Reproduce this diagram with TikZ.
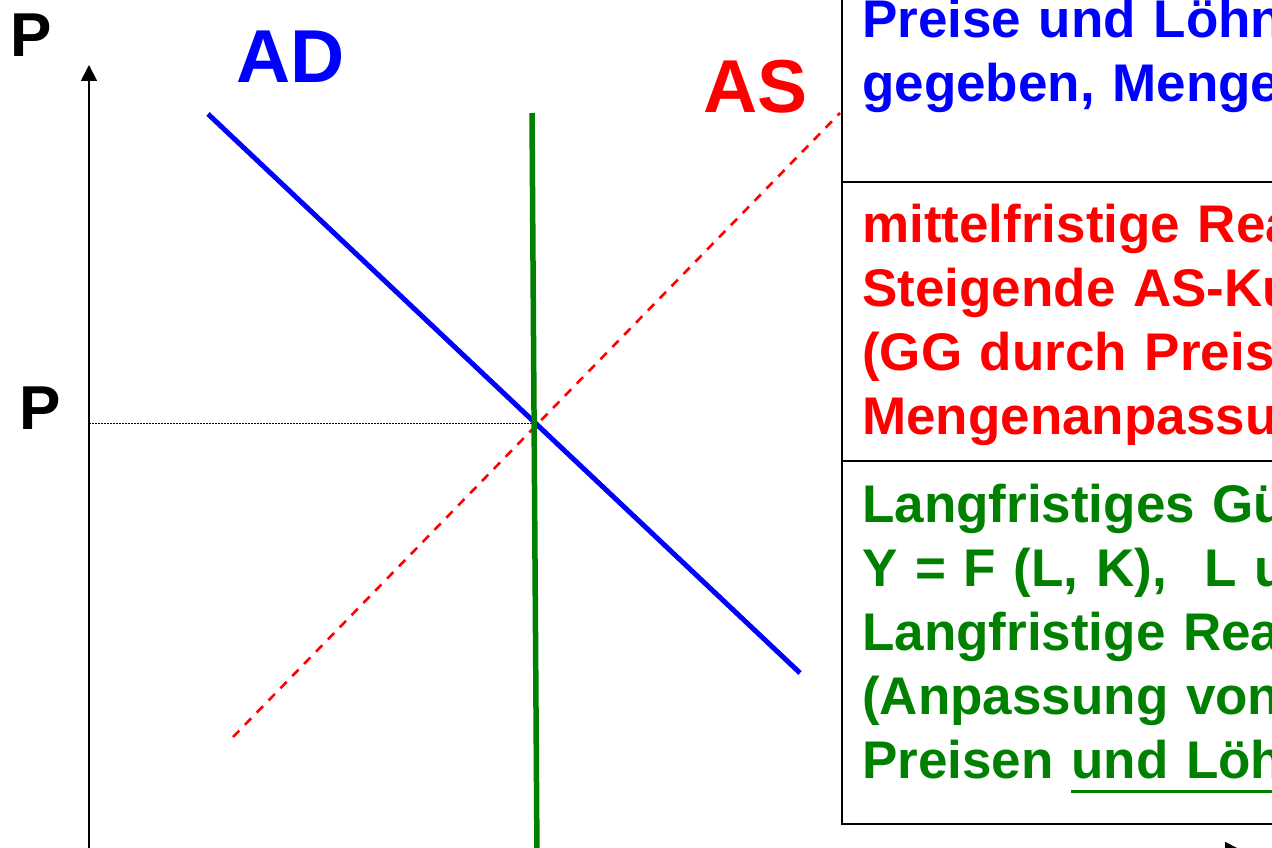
\documentclass[tikz,border=0pt]{standalone}
\usepackage{fontspec}
\setmainfont{Liberation Sans}
\usetikzlibrary{arrows.meta,positioning}
\definecolor{adblue}{RGB}{0,0,255}
\definecolor{asred}{RGB}{255,0,0}
\definecolor{lrgreen}{RGB}{0,128,0}
\newcommand{\lowline}[1]{\leavevmode\vtop{\hbox{#1}\kern10pt\hrule height 3pt}}

\begin{document}
\begin{tikzpicture}[
  x=1pt,y=1pt,
  axis/.style={line width=1.8pt,-{Triangle[length=16pt,width=16pt]}},
  guide/.style={line width=0.9pt,dash pattern=on 1.5pt off 1.5pt},
  adcurve/.style={adblue,line width=5pt},
  lrcurve/.style={lrgreen,line width=5.5pt},
  ascurve/.style={asred,line width=2.6pt,dash pattern=on 9pt off 8pt},
  panel/.style={draw,line width=1.8pt,fill=white,minimum width=600pt,inner sep=0pt,outer sep=0pt,anchor=north west},
  paneltext/.style={anchor=base west,inner sep=0pt,text width=700pt,align=left,font=\fontsize{53}{64}\selectfont\bfseries},
  axislabel/.style={anchor=base west,inner sep=0pt,font=\fontsize{62}{62}\selectfont\bfseries},
  curvelabel/.style={anchor=base west,inner sep=0pt,font=\fontsize{75}{75}\selectfont\bfseries},
  node distance=0pt]
\clip (0,0) rectangle (1272,847);
% axes
\coordinate (origin) at (89,-3);
\coordinate (pTip) at (89,782);
\coordinate (yTip) at (1241,-3);
\draw[axis] (origin)--(pTip);
\draw[axis] (origin)--(yTip);
\node[axislabel] (pAxisLabel) at (10,790) {P};
\node[axislabel] (pLevelLabel) at (19,417) {P};
% curves
\coordinate (adTop) at (208,733);
\coordinate (adEnd) at (800,174);
\coordinate (lrTop) at (532,734);
\coordinate (lrEnd) at (537,-10);
\coordinate (asStart) at (233,110);
\coordinate (asEnd) at (840,734);
\coordinate (pLevel) at (89,424);
\coordinate (eq) at (535,424);
\draw[guide] (pLevel)--(eq);
\draw[ascurve] (asStart)--(asEnd);
\draw[adcurve] (adTop)--(adEnd);
\draw[lrcurve] (lrTop)--(lrEnd);
\node[curvelabel,text=adblue] (adLabel) at (236,764) {AD};
\node[curvelabel,text=asred] (asLabel) at (703,734) {AS};
% text panels
\node[panel,minimum height=242pt] (shortBox) at (842,907) {};
\node[panel,minimum height=279pt,below=of shortBox] (midBox) {};
\node[panel,minimum height=363pt,below=of midBox] (longBox) {};
\node[paneltext,text=adblue] (shortText) at ([shift={(20,-98)}]shortBox.north west)
  {Preise und Löhn\\gegeben, Menge};
\node[paneltext,text=asred] (midText) at ([shift={(20,-61)}]midBox.north west)
  {mittelfristige Rea\\Steigende AS-Ku\\(GG durch Preis\\Mengenanpassu};
\node[paneltext,text=lrgreen] (longText) at ([shift={(20,-62)}]longBox.north west)
  {Langfristiges Gü\\Y = F (L, K),\hspace{38pt}L u\\Langfristige Rea\\(Anpassung von\\Preisen \lowline{und Löh}};
\end{tikzpicture}
\end{document}
